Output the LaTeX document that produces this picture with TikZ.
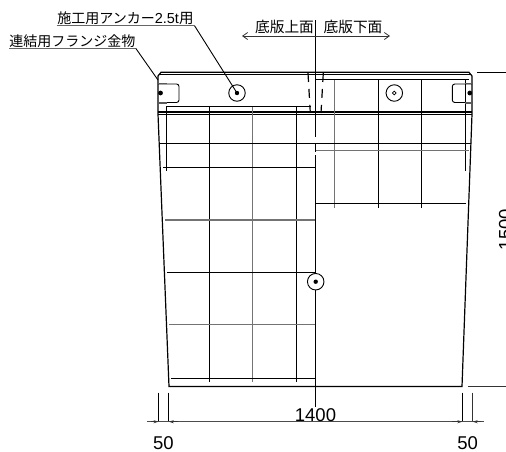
\documentclass[tikz,border=0pt]{standalone}
\usepackage{fontspec}
\setmainfont{Liberation Sans}
\newfontfamily\cjk{Noto Sans CJK JP}
\tikzset{
  outline/.style={line width=1.2pt, black},
  gridline/.style={line width=.9pt, black},
  greyline/.style={line width=1.2pt, black!55},
  dimline/.style={line width=.8pt, black!80},
  tick/.style={line width=1pt, black},
  hole/.style={draw, circle, line width=.9pt, minimum size=16.5pt, inner sep=0pt},
  callout/.style={font=\fontsize{14}{14}\cjk, inner sep=0pt, text height=12pt, text depth=2pt},
  dimtext/.style={font=\fontsize{18.5}{18.5}\selectfont, inner sep=0pt},
  leader/.style={line width=.9pt, black},
  dimtip/.style={line width=.8pt, black!80, -{Stealth[length=5pt,width=3pt]}}
}
\usetikzlibrary{arrows.meta}
\begin{document}
\begin{tikzpicture}[x=1pt,y=-1pt]
    \useasboundingbox (0,0) rectangle (506,451);
    % outer shape
    \draw[outline] (169,386.5) -- (158,114) -- (158,76) -- (161,72.3) -- (469,72.3) -- (472,76) -- (472,114) -- (462,386.5) -- cycle;
    \draw[outline] (160,74.5) -- (470,74.5);
    \draw[outline] (158,112) -- (472,112);
    \draw[outline] (158,114.3) -- (472,114.3);
    % left half
    \foreach \x in {209.3,296.3} \draw[gridline] (\x,106.5) -- (\x,381.5);
    \draw[greyline] (252.7,106.5) -- (252.7,381.5);
    \draw[gridline] (166,106.5) -- (166,170.5);
    \draw[gridline] (166,106.5) -- (311,106.5);
    \draw[gridline] (163,167.3) -- (316,167.3);
    \draw[greyline] (165,220) -- (316,220);
    \draw[gridline] (167,272.3) -- (316,272.3);
    \draw[greyline] (169,324.7) -- (316,324.7);
    \draw[gridline] (171,378.3) -- (316,378.3);
    % right half
    \draw[greyline] (334.7,79) -- (334.7,208);
    \foreach \x in {378.3,421.7} \draw[gridline] (\x,79) -- (\x,208);
    \draw[gridline] (465.3,79) -- (465.3,170.5);
    \draw[gridline] (316,79.3) -- (469,79.3);
    \draw[greyline] (316,150.3) -- (469,150.3);
    \draw[gridline] (316,203.3) -- (466,203.3);
    \draw[gridline] (159.5,143.3) -- (471,143.3);
    % centre line
    \draw[gridline] (315.6,20) -- (315.6,137);
    \draw[gridline] (315.6,143) -- (315.6,152);
    \draw[gridline] (315.6,155) -- (315.6,407);
    % joint
    \draw[line width=1.2pt, dash pattern=on 9pt off 7pt] (308,73) -- (310.3,113);
    \draw[line width=1.2pt, dash pattern=on 9pt off 7pt] (323.3,73) -- (321,113);
    % flanges
    \draw[gridline, rounded corners=2.5pt] (158,84) -- (179,84) -- (179,102.5) -- (158,102.5);
    \draw[gridline, rounded corners=2.5pt] (472,84) -- (452.3,84) -- (452.3,102.5) -- (472,102.5);
    \draw[line width=1.6pt, black!65] (158,83.5) -- (167,83.5);
    \draw[line width=1.6pt, black!65] (158,103) -- (167,103);
    \draw[line width=1.6pt, black!65] (465,83.5) -- (472,83.5);
    \draw[line width=1.6pt, black!65] (465,103) -- (472,103);
    \fill (160.5,93) circle (2.4pt);
    \fill (469.8,93) circle (2.4pt);
    % anchors
    \node[hole, fill=white] (anchorA) at (237,93) {};
    \fill (237,93) circle (2.2pt);
    \node[hole, fill=white] (anchorB) at (394.3,93) {};
    \draw[line width=.7pt] (394.3,93) circle (1.9pt);
    \node[hole, fill=white] (anchorC) at (315.7,281.7) {};
    \fill (315.7,281.7) circle (2.2pt);
    % callouts
    \node[callout, anchor=south west, minimum width=137.5pt] (lblAnchor) at (56.5,25.5) {施工用アンカー\fontsize{14.5}{14.5}\selectfont\rmfamily 2.5t\cjk 用};
    \node[callout, anchor=south west, minimum width=126.5pt] (lblFlange) at (9,48.5) {連結用フランジ金物};
    \coordinate (flangeEnd) at (158,80);
    \draw[line width=1.2pt, black!60] (lblAnchor.south west) -- (lblAnchor.south east);
    \draw[line width=1.2pt, black!60] (lblFlange.south west) -- (lblFlange.south east);
    \draw[leader] (lblAnchor.south east) -- (anchorA.center);
    \draw[leader] (lblFlange.south east) -- (flangeEnd);
    % faces
    \node[callout, font=\fontsize{14.7}{14.7}\cjk, anchor=south] (upperFace) at (284.5,34.5) {底版上面};
    \node[callout, font=\fontsize{14.7}{14.7}\cjk, anchor=south] (lowerFace) at (353,34.5) {底版下面};
    \coordinate (faceL) at (242,36);
    \coordinate (faceR) at (390,36);
    \draw[dimline, {Straight Barb[length=5pt,width=7pt]}-{Straight Barb[length=5pt,width=7pt]}] (faceL) -- (faceR);
    % dimensions
    \draw[gridline] (477,72) -- (506,72);
    \draw[dimline] (468,386.7) -- (506,386.7);
    \draw[tick] (158.5,392.5) -- (158.5,421.7);
    \draw[tick] (168.8,392.5) -- (168.8,421.7);
    \draw[tick] (462.3,392.5) -- (462.3,421.7);
    \draw[dimline] (472.7,392.5) -- (472.7,421.7);
    \draw[line width=.9pt, black!70] (147,421.7) -- (484,421.7);
    \coordinate (tipA) at (158.5,421.7);
    \coordinate (tipB) at (168.8,421.7);
    \coordinate (tipC) at (462.3,421.7);
    \coordinate (tipD) at (472.7,421.7);
    \draw[dimtip] (151,421.7) -- (tipA);
    \draw[dimtip] (178,421.7) -- (tipB);
    \draw[dimtip] (452,421.7) -- (tipC);
    \draw[dimtip] (481,421.7) -- (tipD);
    \node[dimtext] (dim1400) at (315.5,414.8) {1400};
    \node[dimtext] (dimA) at (163.5,443) {50};
    \node[dimtext] (dimB) at (467.7,443) {50};
    \node[dimtext, rotate=90, anchor=north] (dim1500) at (498.7,229.5) {1500};
  \end{tikzpicture}
\end{document}
